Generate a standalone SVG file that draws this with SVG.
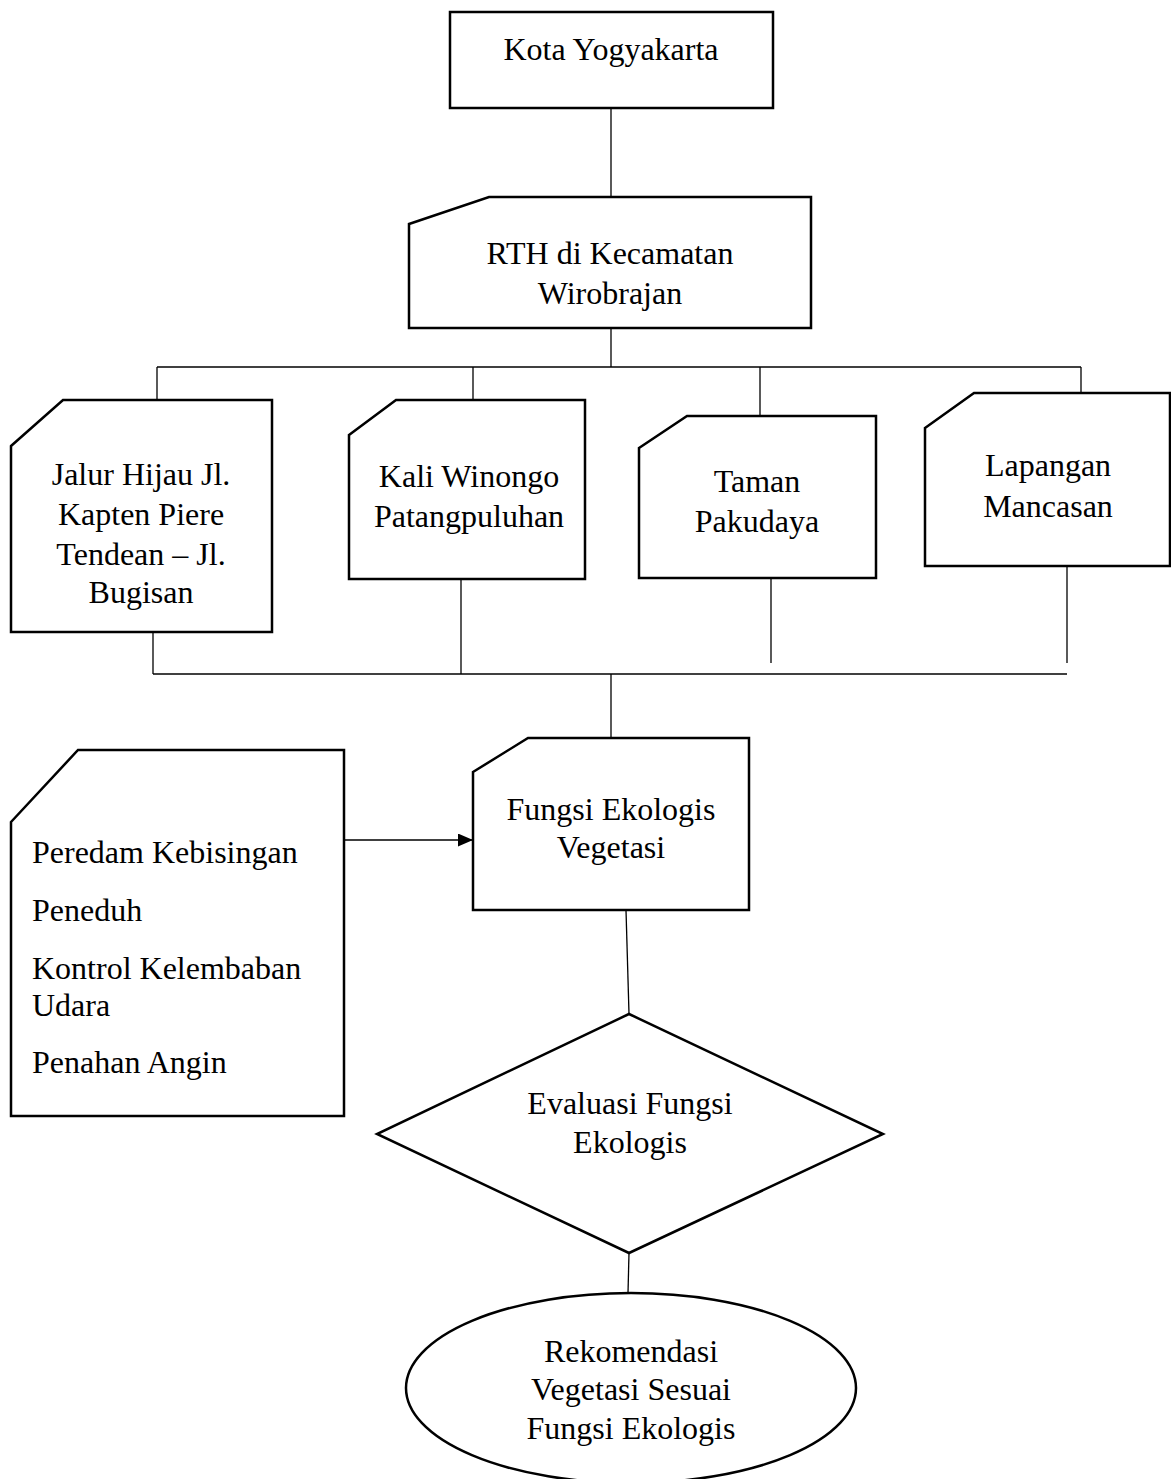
<svg xmlns="http://www.w3.org/2000/svg" width="1171" height="1479" viewBox="0 0 1171 1479">
<defs>
<style>
.n{fill:#fff;stroke:#000;stroke-width:2.5}
.c{fill:none;stroke:#000;stroke-width:1.3}
text{font-family:"Liberation Serif","Times New Roman",serif;font-size:32px;fill:#000}
.m{text-anchor:middle}
</style>
<marker id="ah" viewBox="0 0 15 13" refX="15" refY="6.5" markerWidth="15" markerHeight="13" markerUnits="userSpaceOnUse" orient="auto"><path d="M0,0 L15,6.5 L0,13 Z" fill="#000"/></marker>
</defs>
<rect width="1171" height="1479" fill="#fff"/>
<g id="connectors">
<line class="c" x1="611" y1="108" x2="611" y2="197"/>
<line class="c" x1="611" y1="328" x2="611" y2="367"/>
<line class="c" x1="157" y1="367" x2="1081" y2="367"/>
<line class="c" x1="157" y1="367" x2="157" y2="400"/>
<line class="c" x1="473" y1="367" x2="473" y2="400"/>
<line class="c" x1="760" y1="367" x2="760" y2="416"/>
<line class="c" x1="1081" y1="367" x2="1081" y2="393"/>
<line class="c" x1="153" y1="632" x2="153" y2="674"/>
<line class="c" x1="461" y1="579" x2="461" y2="674"/>
<line class="c" x1="771" y1="578" x2="771" y2="663"/>
<line class="c" x1="1067" y1="566" x2="1067" y2="663"/>
<line class="c" x1="153" y1="674" x2="1067" y2="674"/>
<line class="c" x1="611" y1="674" x2="611" y2="738"/>
<line class="c" x1="344" y1="840" x2="473" y2="840" marker-end="url(#ah)"/>
<line class="c" x1="626" y1="910" x2="629" y2="1014"/>
<line class="c" x1="629" y1="1253" x2="628" y2="1293"/>
</g>
<g id="kota">
<rect class="n" x="450" y="12" width="323" height="96"/>
<text class="m" x="611" y="60">Kota Yogyakarta</text>
</g>
<g id="rth">
<polygon class="n" points="409,224 489,197 811,197 811,328 409,328"/>
<text class="m" x="610" y="264">RTH di Kecamatan</text>
<text class="m" x="610" y="304">Wirobrajan</text>
</g>
<g id="jalur">
<polygon class="n" points="11,446 63,400 272,400 272,632 11,632"/>
<text class="m" x="141" y="485">Jalur Hijau Jl.</text>
<text class="m" x="141" y="525">Kapten Piere</text>
<text class="m" x="141" y="565">Tendean – Jl.</text>
<text class="m" x="141" y="603">Bugisan</text>
</g>
<g id="kali">
<polygon class="n" points="349,435 396,400 585,400 585,579 349,579"/>
<text class="m" x="469" y="487">Kali Winongo</text>
<text class="m" x="469" y="527">Patangpuluhan</text>
</g>
<g id="taman">
<polygon class="n" points="639,448 687,416 876,416 876,578 639,578"/>
<text class="m" x="757" y="492">Taman</text>
<text class="m" x="757" y="532">Pakudaya</text>
</g>
<g id="lapangan">
<polygon class="n" points="925,428 974,393 1170,393 1170,566 925,566"/>
<text class="m" x="1048" y="476">Lapangan</text>
<text class="m" x="1048" y="517">Mancasan</text>
</g>
<g id="kriteria">
<polygon class="n" points="11,822 78,750 344,750 344,1116 11,1116"/>
<text x="32" y="863">Peredam Kebisingan</text>
<text x="32" y="921">Peneduh</text>
<text x="32" y="979">Kontrol Kelembaban</text>
<text x="32" y="1016">Udara</text>
<text x="32" y="1073">Penahan Angin</text>
</g>
<g id="fungsi">
<polygon class="n" points="473,772 528,738 749,738 749,910 473,910"/>
<text class="m" x="611" y="820">Fungsi Ekologis</text>
<text class="m" x="611" y="858">Vegetasi</text>
</g>
<g id="evaluasi">
<polygon class="n" points="629,1014 883,1134 629,1253 377,1134"/>
<text class="m" x="630" y="1114">Evaluasi Fungsi</text>
<text class="m" x="630" y="1153">Ekologis</text>
</g>
<g id="rekomendasi">
<ellipse class="n" cx="631" cy="1388" rx="225" ry="95"/>
<text class="m" x="631" y="1362">Rekomendasi</text>
<text class="m" x="631" y="1400">Vegetasi Sesuai</text>
<text class="m" x="631" y="1439">Fungsi Ekologis</text>
</g>
</svg>
